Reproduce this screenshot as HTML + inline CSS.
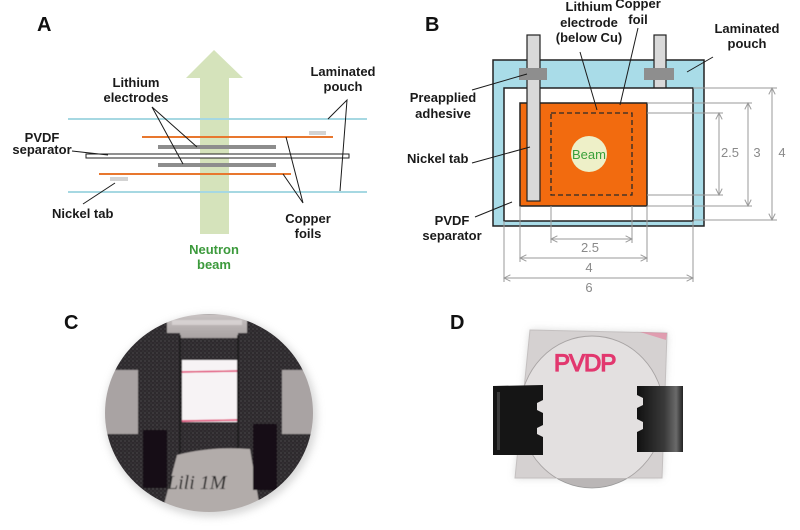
<!DOCTYPE html>
<html><head><meta charset="utf-8"><style>
html,body{margin:0;padding:0;background:#fff;}
svg{display:block;}
.l{font-family:"Liberation Sans",Arial,sans-serif;font-weight:bold;font-size:13px;fill:#1a1a1a;}
.p{font-family:"Liberation Sans",Arial,sans-serif;font-weight:bold;font-size:20px;fill:#111;}
.d{font-family:"Liberation Sans",Arial,sans-serif;font-size:13px;fill:#8a8a8a;}
</style></head><body>
<svg width="800" height="530" viewBox="0 0 800 530" xmlns="http://www.w3.org/2000/svg">
<defs>
<marker id="ar" viewBox="0 0 10 10" refX="9" refY="5" markerWidth="8" markerHeight="8" orient="auto-start-reverse" markerUnits="userSpaceOnUse">
<path d="M1,1 L9,5 L1,9" fill="none" stroke="#9a9a9a" stroke-width="1.2"/>
</marker>
<filter id="bl" x="-20%" y="-20%" width="140%" height="140%"><feGaussianBlur stdDeviation="4"/></filter>
<filter id="bs" x="-20%" y="-20%" width="140%" height="140%"><feGaussianBlur stdDeviation="0.6"/></filter>
<clipPath id="disc"><ellipse cx="209" cy="413" rx="104" ry="99"/></clipPath>
<clipPath id="sq"><polygon points="530,330 667,333 662,478 515,478"/></clipPath>
<linearGradient id="rc" x1="0" x2="1" y1="0" y2="0"><stop offset="0" stop-color="#111"/><stop offset="0.6" stop-color="#3a3a3a"/><stop offset="0.85" stop-color="#6a6a6a"/><stop offset="1" stop-color="#222"/></linearGradient>
<linearGradient id="sv" x1="0" x2="0" y1="0" y2="1"><stop offset="0" stop-color="#c9c3c3"/><stop offset="1" stop-color="#a8a2a2"/></linearGradient>
<pattern id="tx" width="4" height="4" patternUnits="userSpaceOnUse">
<rect width="4" height="4" fill="#2b282b"/>
<circle cx="1" cy="1" r="0.7" fill="#5a5658"/>
<circle cx="3" cy="3" r="0.6" fill="#4a4648"/>
</pattern>
</defs>

<!-- ===== Panel A ===== -->
<text class="p" x="37" y="31">A</text>
<polygon points="186,78 214,50 243,78 229,78 229,234 200,234 200,78" fill="#d5e3bb"/>
<line x1="68" y1="119" x2="367" y2="119" stroke="#a6d8e2" stroke-width="2"/>
<line x1="68" y1="192" x2="367" y2="192" stroke="#a6d8e2" stroke-width="2"/>
<line x1="142" y1="137" x2="333" y2="137" stroke="#e8772e" stroke-width="2"/>
<line x1="99" y1="174" x2="291" y2="174" stroke="#e8772e" stroke-width="2"/>
<line x1="158" y1="147" x2="276" y2="147" stroke="#8d8d8d" stroke-width="4"/>
<line x1="158" y1="165" x2="276" y2="165" stroke="#8d8d8d" stroke-width="4"/>
<rect x="86" y="154" width="263" height="4" fill="#fff" stroke="#222" stroke-width="1"/>
<rect x="309" y="131" width="17" height="4" fill="#d3d3d3"/>
<rect x="110" y="177" width="18" height="4" fill="#d3d3d3"/>
<g stroke="#1a1a1a" stroke-width="1" fill="none">
<polyline points="328,119 347,100 340,191"/>
<polyline points="197,147 152,107 183,164"/>
<line x1="72" y1="151" x2="108" y2="155"/>
<line x1="83" y1="204" x2="115" y2="183"/>
<polyline points="286,137 303,203 283,174"/>
</g>
<text class="l" x="136" y="87" text-anchor="middle">Lithium</text>
<text class="l" x="136" y="102" text-anchor="middle">electrodes</text>
<text class="l" x="343" y="76" text-anchor="middle">Laminated</text>
<text class="l" x="343" y="91" text-anchor="middle">pouch</text>
<text class="l" x="42" y="142" text-anchor="middle">PVDF</text>
<text class="l" x="42" y="154" text-anchor="middle">separator</text>
<text class="l" x="52" y="218">Nickel tab</text>
<text class="l" x="308" y="223" text-anchor="middle">Copper</text>
<text class="l" x="308" y="238" text-anchor="middle">foils</text>
<text class="l" x="214" y="254" text-anchor="middle" style="fill:#3c9a3c">Neutron</text>
<text class="l" x="214" y="269" text-anchor="middle" style="fill:#3c9a3c">beam</text>

<!-- ===== Panel B ===== -->
<text class="p" x="425" y="31">B</text>
<rect x="493" y="60" width="211" height="166" fill="#a9dce8" stroke="#222" stroke-width="1.5"/>
<rect x="654" y="35" width="12" height="54" fill="#d9d9d9" stroke="#222" stroke-width="1.2"/>
<rect x="504" y="88" width="189" height="133" fill="#fff" stroke="#222" stroke-width="1.5"/>
<rect x="520" y="103" width="127" height="103" fill="#f26b0f" stroke="#222" stroke-width="1.5"/>
<rect x="551" y="113" width="81" height="82" fill="none" stroke="#2a2a2a" stroke-width="1.3" stroke-dasharray="5,3"/>
<circle cx="589" cy="154" r="18" fill="#eef0c8"/>
<text x="589" y="159" text-anchor="middle" style="font-family:'Liberation Sans',Arial,sans-serif;font-size:13px;fill:#3aa03a">Beam</text>
<rect x="527" y="35" width="13" height="166" fill="#d9d9d9" stroke="#222" stroke-width="1.2"/>
<rect x="519" y="68" width="28" height="12" fill="#8e8e8e"/>
<rect x="644" y="68" width="30" height="12" fill="#8e8e8e"/>
<!-- dimension lines -->
<g stroke="#9a9a9a" stroke-width="1" fill="none">
<line x1="647" y1="113" x2="723" y2="113"/>
<line x1="647" y1="195" x2="723" y2="195"/>
<line x1="647" y1="103" x2="752" y2="103"/>
<line x1="647" y1="206" x2="752" y2="206"/>
<line x1="693" y1="88" x2="777" y2="88"/>
<line x1="693" y1="220" x2="777" y2="220"/>
<line x1="551" y1="206" x2="551" y2="243"/>
<line x1="632" y1="206" x2="632" y2="243"/>
<line x1="520" y1="206" x2="520" y2="262"/>
<line x1="647" y1="206" x2="647" y2="262"/>
<line x1="504" y1="221" x2="504" y2="282"/>
<line x1="693" y1="221" x2="693" y2="282"/>
<line x1="719" y1="113" x2="719" y2="195" marker-start="url(#ar)" marker-end="url(#ar)"/>
<line x1="748" y1="103" x2="748" y2="206" marker-start="url(#ar)" marker-end="url(#ar)"/>
<line x1="772" y1="88" x2="772" y2="220" marker-start="url(#ar)" marker-end="url(#ar)"/>
<line x1="551" y1="239" x2="632" y2="239" marker-start="url(#ar)" marker-end="url(#ar)"/>
<line x1="520" y1="258" x2="647" y2="258" marker-start="url(#ar)" marker-end="url(#ar)"/>
<line x1="504" y1="278" x2="693" y2="278" marker-start="url(#ar)" marker-end="url(#ar)"/>
</g>
<text class="d" x="730" y="157" text-anchor="middle">2.5</text>
<text class="d" x="757" y="157" text-anchor="middle">3</text>
<text class="d" x="782" y="157" text-anchor="middle">4</text>
<text class="d" x="590" y="252" text-anchor="middle">2.5</text>
<text class="d" x="589" y="272" text-anchor="middle">4</text>
<text class="d" x="589" y="292" text-anchor="middle">6</text>
<g stroke="#1a1a1a" stroke-width="1" fill="none">
<line x1="580" y1="52" x2="597" y2="110"/>
<line x1="638" y1="28" x2="620" y2="105"/>
<line x1="713" y1="57" x2="687" y2="72"/>
<line x1="472" y1="90" x2="527" y2="74"/>
<line x1="472" y1="163" x2="530" y2="147"/>
<line x1="475" y1="217" x2="512" y2="202"/>
</g>
<text class="l" x="589" y="11" text-anchor="middle">Lithium</text>
<text class="l" x="589" y="27" text-anchor="middle">electrode</text>
<text class="l" x="589" y="42" text-anchor="middle">(below Cu)</text>
<text class="l" x="638" y="8" text-anchor="middle">Copper</text>
<text class="l" x="638" y="24" text-anchor="middle">foil</text>
<text class="l" x="747" y="33" text-anchor="middle">Laminated</text>
<text class="l" x="747" y="48" text-anchor="middle">pouch</text>
<text class="l" x="443" y="102" text-anchor="middle">Preapplied</text>
<text class="l" x="443" y="118" text-anchor="middle">adhesive</text>
<text class="l" x="407" y="163">Nickel tab</text>
<text class="l" x="452" y="225" text-anchor="middle">PVDF</text>
<text class="l" x="452" y="240" text-anchor="middle">separator</text>

<!-- ===== Panel C ===== -->
<text class="p" x="64" y="329">C</text>
<ellipse cx="211" cy="416" rx="106" ry="101" fill="#c8c8c8" filter="url(#bl)" opacity="0.7"/>
<g clip-path="url(#disc)" filter="url(#bs)">
<rect x="100" y="310" width="220" height="210" fill="url(#tx)"/>
<rect x="100" y="370" width="38" height="64" fill="#a9a3a3"/>
<rect x="282" y="370" width="38" height="64" fill="#a9a3a3"/>
<rect x="167" y="314" width="80" height="24" fill="url(#sv)"/>
<rect x="172" y="320" width="70" height="5" fill="#e0dcdc" opacity="0.7"/>
<rect x="138" y="333" width="42" height="165" fill="url(#tx)"/>
<rect x="238" y="333" width="44" height="165" fill="url(#tx)"/>
<line x1="180" y1="335" x2="180" y2="498" stroke="#151315" stroke-width="1.5"/>
<line x1="238" y1="335" x2="238" y2="498" stroke="#151315" stroke-width="1.5"/>
<rect x="182" y="360" width="55" height="62" fill="#f7f3f5"/>
<line x1="182" y1="372" x2="237" y2="371" stroke="#e0306a" stroke-width="1.5"/>
<line x1="182" y1="421" x2="237" y2="420" stroke="#e0306a" stroke-width="1.5"/>
<path d="M177,455 Q211,446 250,449 L262,520 L160,520 Z" fill="#b2acaa"/>
<rect x="143" y="430" width="24" height="58" fill="#121012"/>
<rect x="253" y="424" width="24" height="66" fill="#121012"/>
<text x="167" y="489" style="font-family:'Liberation Serif',serif;font-style:italic;font-size:20px;fill:#222">Lili 1M</text>
</g>

<!-- ===== Panel D ===== -->
<text class="p" x="450" y="329">D</text>
<polygon points="530,330 667,333 662,478 515,478" fill="#bdbdbd" filter="url(#bl)" opacity="0.6"/>
<ellipse cx="592" cy="412" rx="72" ry="76" fill="#bab6b6" stroke="#999" stroke-width="0.8"/>
<polygon points="530,330 667,333 662,478 515,478" fill="#d5d1d1" stroke="#c4c0c0" stroke-width="1"/>
<g clip-path="url(#sq)">
<ellipse cx="592" cy="412" rx="72" ry="76" fill="#e3e0e0" stroke="#a8a4a4" stroke-width="0.9"/>
</g>
<path d="M640,332 L667,333 L666,340 Z" fill="#e87a9a" opacity="0.6"/>
<text x="554" y="371" style="font-family:'Liberation Sans',Arial,sans-serif;font-size:24px;fill:#e2386f;stroke:#e2386f;stroke-width:1.2;letter-spacing:-1px">PVDP</text>
<polygon points="493,386 543,385 543,400 537,403 537,410 543,413 543,425 537,428 537,434 543,437 543,455 493,455" fill="#151515"/>
<rect x="497" y="392" width="3" height="58" fill="#3a3a3a"/>
<polygon points="637,386 683,386 683,452 637,452 637,432 643,429 643,422 637,419 637,408 643,405 643,398 637,395" fill="url(#rc)"/>
</svg>
</body></html>
